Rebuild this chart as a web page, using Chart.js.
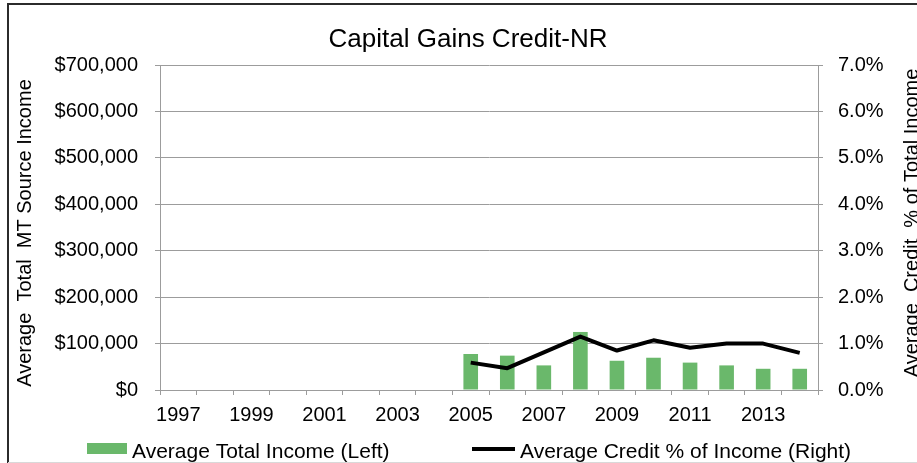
<!DOCTYPE html>
<html>
<head>
<meta charset="utf-8">
<script src="https://cdn.jsdelivr.net/npm/chart.js@4.4.1/dist/chart.umd.min.js"></script>
<style>
  html, body { margin: 0; padding: 0; background: #fff; }
  #wrap { position: relative; width: 917px; height: 463px; }
</style>
</head>
<body>
<div id="wrap"><canvas id="gainsChart" width="917" height="463"></canvas></div>
<script>
// data
const years = ['1997', '1998', '1999', '2000', '2001', '2002', '2003', '2004', '2005',
  '2006', '2007', '2008', '2009', '2010', '2011', '2012', '2013', '2014'];
const avgIncome = [null, null, null, null, null, null, null, null,
  77600, 74000, 53000, 125000, 63000, 69500, 59000, 53000, 45700, 45700];
const creditPct = [null, null, null, null, null, null, null, null,
  0.59, 0.47, 0.81, 1.15, 0.85, 1.07, 0.91, 1.00, 1.00, 0.80];
const leftTicks = [0, 100000, 200000, 300000, 400000, 500000, 600000, 700000];
const rightTicks = [0, 1, 2, 3, 4, 5, 6, 7];

const chartTitle = 'Capital Gains Credit-NR';
const leftTitle = 'Average  Total  MT Source Income';
const rightTitle = 'Average  Credit  % of Total Income';

const FONT = '"Liberation Sans", Arial, sans-serif';
const GRID = '#9c9c9c';
const GREEN = 'rgb(106, 184, 107)';

Chart.defaults.font.family = FONT;
Chart.defaults.font.size = 20;
Chart.defaults.color = '#000';

// title, axis titles, legend and frame drawn by hand so they sit like the original
const decorations = {
  id: 'decorations',
  afterDraw(chart) {
    const ctx = chart.ctx;
    ctx.save();
    ctx.fillStyle = '#000';

    ctx.font = '26px ' + FONT;
    ctx.textAlign = 'center';
    ctx.textBaseline = 'alphabetic';
    ctx.fillText(chartTitle, 468, 47);

    ctx.font = '20px ' + FONT;
    ctx.save();
    ctx.translate(31, 233);
    ctx.rotate(-Math.PI / 2);
    ctx.fillText(leftTitle, 0, 0);
    ctx.restore();

    ctx.save();
    ctx.translate(918, 223);
    ctx.rotate(-Math.PI / 2);
    ctx.fillText(rightTitle, 0, 0);
    ctx.restore();

    // legend
    const ds = chart.data.datasets;
    ctx.font = '21px ' + FONT;
    ctx.textAlign = 'left';
    ctx.fillStyle = GREEN;
    ctx.fillRect(87, 443, 40, 11);
    ctx.fillStyle = '#000';
    ctx.fillText(ds[1].label, 132, 458);
    ctx.strokeStyle = '#000';
    ctx.lineWidth = 4;
    ctx.beginPath();
    ctx.moveTo(472, 449);
    ctx.lineTo(515, 449);
    ctx.stroke();
    ctx.fillText(ds[0].label, 520, 458);

    // outer frame
    ctx.strokeStyle = '#2b2b2b';
    ctx.lineWidth = 2;
    ctx.beginPath();
    ctx.moveTo(8, 470);
    ctx.lineTo(8, 4);
    ctx.lineTo(930, 4);
    ctx.stroke();
    ctx.strokeStyle = '#d9d9d9';
    ctx.lineWidth = 1;
    ctx.beginPath();
    ctx.moveTo(8, 462.5);
    ctx.lineTo(930, 462.5);
    ctx.stroke();
    ctx.restore();
  }
};

new Chart(document.getElementById('gainsChart'), {
  data: {
    labels: years,
    datasets: [
      {
        type: 'line',
        label: 'Average Credit % of Income (Right)',
        data: creditPct,
        yAxisID: 'yRight',
        borderColor: '#000',
        borderWidth: 4,
        pointRadius: 0,
        tension: 0,
        borderJoinStyle: 'round',
        order: 0
      },
      {
        type: 'bar',
        label: 'Average Total Income (Left)',
        data: avgIncome,
        yAxisID: 'yLeft',
        backgroundColor: GREEN,
        barPercentage: 0.4,
        categoryPercentage: 1,
        order: 1
      }
    ]
  },
  options: {
    responsive: false,
    animation: false,
    layout: { padding: { top: 65, left: 0, right: 0, bottom: 0 } },
    plugins: {
      legend: { display: false },
      title: { display: false },
      tooltip: { enabled: false }
    },
    scales: {
      x: {
        offset: true,
        grid: { drawOnChartArea: false, drawTicks: true, tickLength: 5, offset: true, color: GRID },
        border: { color: GRID, width: 1 },
        ticks: {
          autoSkip: false,
          maxRotation: 0,
          padding: 8,
          callback: function (v, i) { return i % 2 === 0 ? years[i] : ''; }
        },
        afterFit: function (s) { s.height = 73; }
      },
      yLeft: {
        position: 'left',
        min: 0,
        max: 700000,
        afterBuildTicks: function (s) { s.ticks = leftTicks.map(v => ({ value: v })); },
        grid: { color: GRID, tickLength: 5 },
        border: { color: GRID, width: 1 },
        ticks: {
          padding: 17,
          callback: function (v) { return '$' + v.toLocaleString('en-US'); }
        },
        afterFit: function (s) { s.width = 160; }
      },
      yRight: {
        position: 'right',
        min: 0,
        max: 7,
        afterBuildTicks: function (s) { s.ticks = rightTicks.map(v => ({ value: v })); },
        grid: { drawOnChartArea: false, color: GRID, tickLength: 5 },
        border: { color: GRID, width: 1 },
        ticks: {
          padding: 15,
          callback: function (v) { return v.toFixed(1) + '%'; }
        },
        afterFit: function (s) { s.width = 99; }
      }
    }
  },
  plugins: [decorations]
});
</script>
</body>
</html>
